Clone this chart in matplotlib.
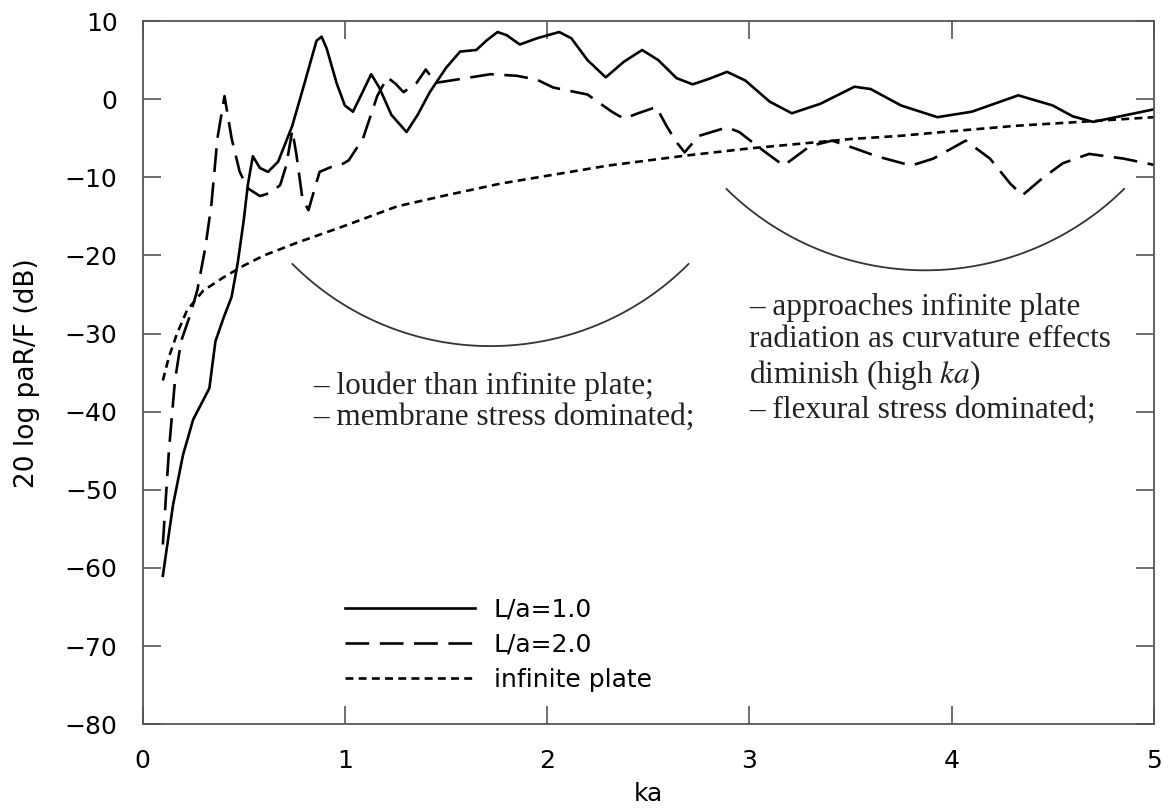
import numpy as np
import matplotlib
matplotlib.use("Agg")
import matplotlib.pyplot as plt

# values
ka_solid = [0.1, 0.15, 0.2, 0.25, 0.3, 0.33, 0.36, 0.4, 0.44, 0.47, 0.5, 0.52, 0.545,
            0.58, 0.62, 0.67, 0.74, 0.8, 0.86, 0.885, 0.91, 0.96, 1.0, 1.04, 1.08,
            1.13, 1.17, 1.23, 1.305, 1.36, 1.42, 1.5, 1.57, 1.65, 1.7, 1.755, 1.8,
            1.865, 1.95, 2.06, 2.12, 2.2, 2.29, 2.38, 2.47, 2.55, 2.64, 2.72, 2.8,
            2.89, 2.98, 3.1, 3.21, 3.35, 3.52, 3.6, 3.75, 3.93, 4.1, 4.33, 4.5, 4.6,
            4.7, 4.85, 5.0]
db_solid = [-61, -52, -45.5, -41, -38.5, -37, -31, -28, -25.3, -21, -15.5, -11, -7.3,
            -8.8, -9.3, -8, -3.4, 2, 7.5, 8.0, 6.5, 2, -0.8, -1.6, 0.5,
            3.2, 1.5, -2, -4.2, -2, 0.9, 4.0, 6.1, 6.3, 7.5, 8.6, 8.2,
            7.0, 7.8, 8.6, 7.8, 5, 2.8, 4.8, 6.3, 5, 2.7, 1.9, 2.6,
            3.5, 2.4, -0.3, -1.8, -0.6, 1.6, 1.3, -0.8, -2.3, -1.6, 0.5, -0.8, -2.2,
            -2.9, -2.1, -1.3]

ka_dash = [0.1, 0.13, 0.16, 0.19, 0.23, 0.27, 0.31, 0.34, 0.37, 0.405, 0.44, 0.48,
           0.52, 0.58, 0.63, 0.68, 0.71, 0.74, 0.76, 0.79, 0.82, 0.875, 0.93, 0.975,
           1.02, 1.09, 1.16, 1.21, 1.25, 1.29, 1.355, 1.4, 1.45, 1.55, 1.72, 1.85,
           1.95, 2.03, 2.2, 2.32, 2.38, 2.45, 2.54, 2.59, 2.64, 2.68, 2.75, 2.89,
           2.95, 3.07, 3.17, 3.3, 3.41, 3.5, 3.63, 3.8, 3.91, 4.07, 4.19, 4.29,
           4.35, 4.45, 4.55, 4.68, 4.85, 5.0]
db_dash = [-57, -45, -36, -31, -28, -24.5, -19, -13.5, -5, 0.4, -5, -9.3,
           -11.4, -12.4, -12, -11, -8.5, -4, -7, -12.7, -14.2, -9.3, -8.7, -8.5,
           -7.8, -5, 0.4, 2.8, 2, 0.9, 2.1, 3.8, 2.1, 2.5, 3.2, 3.0,
           2.5, 1.5, 0.6, -1.6, -2.5, -1.8, -1.0, -3.4, -5.5, -6.8, -4.7, -3.6,
           -4.2, -6.6, -8.5, -6, -5.3, -6.1, -7.3, -8.5, -7.6, -5.3, -7.6, -10.8,
           -12.3, -10.1, -8.2, -7.0, -7.6, -8.4]

ka_inf = [0.1, 0.13, 0.17, 0.22, 0.3, 0.4, 0.5, 0.6, 0.76, 1.0, 1.26, 1.5, 1.77,
          2.0, 2.3, 2.69, 3.0, 3.5, 3.74, 4.0, 4.32, 4.7, 5.0]
db_inf = [-36, -33, -30, -27, -24.5, -22.8, -21.3, -20, -18.4, -16.2, -13.7, -12.3,
          -10.8, -9.8, -8.5, -7.2, -6.3, -5.1, -4.7, -4.1, -3.4, -2.8, -2.3]

labels = ["L/a=1.0", "L/a=2.0", "infinite plate"]

# bracket arcs: centre ka, centre dB, half width (ka), half height (dB), angles
arc_low = (1.72, 3.55, 1.373, 35.15, 224.5, 315.5)
arc_high = (3.87, 13.65, 1.39, 35.55, 225, 315)

plt.rcParams['font.family'] = ['DejaVu Sans']
plt.rcParams['mathtext.fontset'] = 'stix'

fig = plt.figure(figsize=(11.69, 8.11), dpi=100)
ax = fig.add_axes([0.122, 0.107, 0.865, 0.867])

ax.plot(ka_solid, db_solid, color='black', lw=1.9, label=labels[0])
ax.plot(ka_dash, db_dash, color='black', lw=1.9, dashes=(9, 4), label=labels[1])
ax.plot(ka_inf, db_inf, color='black', lw=1.9, dashes=(3, 2), label=labels[2])

for cx, cy, a, b, t1, t2 in (arc_low, arc_high):
    t = np.radians(np.linspace(t1, t2, 100))
    ax.plot(cx + a * np.cos(t), cy + b * np.sin(t), color='#333333', lw=1.3)

ax.text(0.845, -34.8, "– louder than infinite plate;\n– membrane stress dominated;",
        family='Liberation Serif', fontsize=22.5, color='#222222',
        va='top', linespacing=1.12)
ax.text(3.0, -24.8,
        "– approaches infinite plate\nradiation as curvature effects\n"
        "diminish (high $\\mathit{ka}$)\n– flexural stress dominated;",
        family='Liberation Serif', fontsize=22.5, color='#222222',
        va='top', linespacing=1.15)

ax.set_xlim(0, 5)
ax.set_ylim(-80, 10)
ax.set_xticks([0, 1, 2, 3, 4, 5])
ax.set_yticks(np.arange(-80, 11, 10))
ax.tick_params(direction='in', length=13, width=1.2, color='#555555',
               top=True, right=True, labelsize=18)
ax.tick_params(axis='x', pad=18)
ax.tick_params(axis='y', pad=18)
for s in ax.spines.values():
    s.set_color('#555555')
    s.set_linewidth(1.3)

ax.set_xlabel("ka", fontsize=18, labelpad=6)
ax.set_ylabel("20 log paR/F (dB)", fontsize=19, labelpad=18)

ax.legend(loc='upper left', bbox_to_anchor=(0.2, 0.18), frameon=False,
          fontsize=18, handlelength=5.2, handletextpad=0.75, labelspacing=0.45,
          borderpad=0, borderaxespad=0)

fig.savefig("out.png", dpi=100)
